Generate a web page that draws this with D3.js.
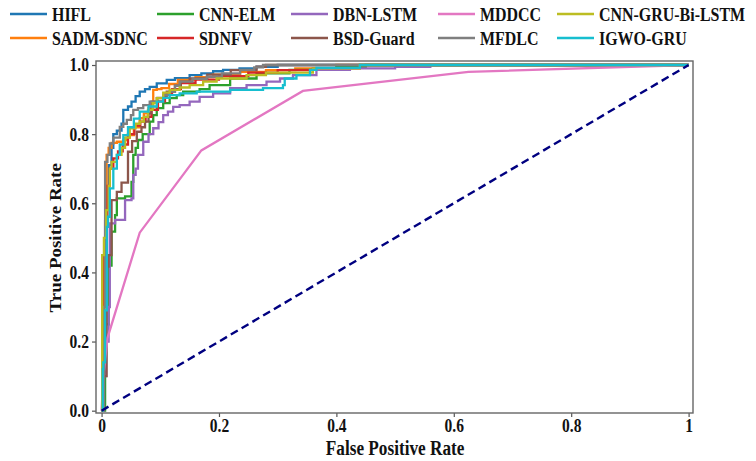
<!DOCTYPE html>
<html>
<head>
<meta charset="utf-8">
<script src="https://cdn.jsdelivr.net/npm/d3@7"></script>
<style>
  html, body { margin: 0; padding: 0; background: #fff; }
  svg text { font-family: "Liberation Serif", "Times New Roman", serif; font-weight: bold; fill: #111; }
</style>
</head>
<body>
<svg id="chart" width="756" height="461"></svg>
<script>
// ROC curves (false positive rate, true positive rate), one pair of arrays per model
const seriesNames = ["HIFL", "SADM-SDNC", "CNN-ELM", "SDNFV", "DBN-LSTM",
                     "BSD-Guard", "MDDCC", "MFDLC", "CNN-GRU-Bi-LSTM", "IGWO-GRU"];
const seriesColors = ["#1f77b4", "#ff7f0e", "#2ca02c", "#d62728", "#9467bd",
                      "#8c564b", "#e377c2", "#7f7f7f", "#bcbd22", "#17becf"];

const hiflFpr = [0, 0.003, 0.008, 0.012, 0.017, 0.020, 0.026, 0.034, 0.037, 0.045, 0.051, 0.058, 0.065, 0.074, 0.082, 0.094, 0.111, 0.125, 0.150, 0.170, 0.190, 0.207, 0.235, 0.264, 0.300, 1];
const hiflTpr = [0, 0.45, 0.62, 0.71, 0.76, 0.80, 0.81, 0.83, 0.87, 0.88, 0.894, 0.91, 0.923, 0.93, 0.937, 0.947, 0.957, 0.962, 0.971, 0.976, 0.982, 0.986, 0.99, 0.995, 1.0, 1.0];

const sadmFpr = [0, 0.004, 0.0085, 0.012, 0.017, 0.026, 0.037, 0.042, 0.048, 0.055, 0.065, 0.072, 0.080, 0.088, 0.094, 0.102, 0.115, 0.130, 0.160, 0.190, 0.236, 0.280, 0.330, 0.400, 1];
const sadmTpr = [0, 0.45, 0.74, 0.76, 0.775, 0.778, 0.783, 0.79, 0.797, 0.82, 0.846, 0.86, 0.875, 0.928, 0.93, 0.933, 0.945, 0.957, 0.965, 0.972, 0.98, 0.985, 0.99, 1.0, 1.0];

const cnnElmFpr = [0, 0.006, 0.012, 0.017, 0.023, 0.026, 0.040, 0.051, 0.054, 0.058, 0.062, 0.070, 0.082, 0.088, 0.094, 0.105, 0.116, 0.128, 0.139, 0.167, 0.184, 0.219, 0.264, 0.320, 0.400, 0.450, 1];
const cnnElmTpr = [0, 0.25, 0.42, 0.518, 0.566, 0.614, 0.62, 0.662, 0.74, 0.76, 0.783, 0.80, 0.836, 0.855, 0.875, 0.89, 0.904, 0.913, 0.923, 0.93, 0.942, 0.961, 0.976, 0.986, 0.995, 1.0, 1.0];

const sdnfvFpr = [0, 0.002, 0.006, 0.010, 0.014, 0.020, 0.028, 0.036, 0.045, 0.056, 0.066, 0.075, 0.085, 0.096, 0.108, 0.120, 0.135, 0.160, 0.200, 0.250, 0.300, 0.360, 0.440, 1];
const sdnfvTpr = [0, 0.45, 0.55, 0.65, 0.70, 0.73, 0.75, 0.77, 0.80, 0.825, 0.836, 0.85, 0.87, 0.895, 0.915, 0.93, 0.948, 0.958, 0.968, 0.978, 0.985, 0.99, 1.0, 1.0];

const dbnFpr = [0, 0.004, 0.008, 0.012, 0.014, 0.023, 0.040, 0.051, 0.054, 0.058, 0.062, 0.071, 0.080, 0.088, 0.097, 0.105, 0.113, 0.122, 0.133, 0.150, 0.167, 0.190, 0.219, 0.247, 0.281, 0.304, 0.326, 0.366, 0.423, 0.500, 0.560, 1];
const dbnTpr = [0, 0.10, 0.20, 0.30, 0.542, 0.552, 0.609, 0.614, 0.682, 0.70, 0.74, 0.778, 0.80, 0.817, 0.835, 0.855, 0.865, 0.879, 0.884, 0.894, 0.908, 0.918, 0.933, 0.942, 0.952, 0.961, 0.971, 0.986, 0.99, 0.995, 1.0, 1.0];

const bsdFpr = [0, 0.004, 0.0085, 0.012, 0.017, 0.026, 0.034, 0.045, 0.052, 0.060, 0.068, 0.074, 0.080, 0.085, 0.095, 0.111, 0.125, 0.135, 0.150, 0.180, 0.220, 0.264, 0.280, 1];
const bsdTpr = [0, 0.10, 0.417, 0.45, 0.609, 0.633, 0.66, 0.749, 0.78, 0.807, 0.82, 0.836, 0.86, 0.894, 0.905, 0.923, 0.94, 0.952, 0.961, 0.972, 0.985, 0.995, 1.0, 1.0];

const mddccFpr = [0, 0.003, 0.010, 0.065, 0.170, 0.343, 0.625, 1];
const mddccTpr = [0, 0.10, 0.21, 0.515, 0.753, 0.925, 0.98, 1];

const mfdlcFpr = [0, 0.004, 0.006, 0.010, 0.014, 0.020, 0.031, 0.037, 0.043, 0.050, 0.054, 0.062, 0.071, 0.082, 0.094, 0.105, 0.116, 0.125, 0.133, 0.155, 0.179, 0.205, 0.236, 0.260, 0.275, 1];
const mfdlcTpr = [0, 0.30, 0.72, 0.74, 0.773, 0.79, 0.821, 0.83, 0.841, 0.855, 0.87, 0.875, 0.884, 0.894, 0.904, 0.913, 0.923, 0.94, 0.952, 0.96, 0.966, 0.976, 0.986, 0.993, 1.0, 1.0];

const cnnGruFpr = [0, 0.001, 0.004, 0.008, 0.012, 0.014, 0.017, 0.026, 0.034, 0.040, 0.048, 0.058, 0.065, 0.072, 0.079, 0.087, 0.094, 0.105, 0.116, 0.133, 0.150, 0.173, 0.196, 0.247, 0.280, 0.360, 0.440, 1];
const cnnGruTpr = [0, 0.45, 0.50, 0.58, 0.65, 0.70, 0.72, 0.74, 0.76, 0.79, 0.817, 0.83, 0.836, 0.85, 0.87, 0.89, 0.904, 0.92, 0.928, 0.935, 0.942, 0.952, 0.961, 0.971, 0.978, 0.99, 1.0, 1.0];

const igwoFpr = [0, 0.002, 0.003, 0.006, 0.009, 0.011, 0.014, 0.020, 0.026, 0.031, 0.037, 0.045, 0.055, 0.065, 0.080, 0.094, 0.105, 0.116, 0.133, 0.162, 0.219, 0.275, 0.309, 0.312, 0.332, 0.355, 0.366, 0.440, 1];
const igwoTpr = [0, 0.12, 0.14, 0.29, 0.532, 0.561, 0.643, 0.70, 0.74, 0.77, 0.797, 0.82, 0.845, 0.865, 0.88, 0.894, 0.905, 0.913, 0.918, 0.923, 0.928, 0.933, 0.942, 0.961, 0.971, 0.986, 0.992, 1.0, 1.0];

const seriesFpr = [hiflFpr, sadmFpr, cnnElmFpr, sdnfvFpr, dbnFpr, bsdFpr, mddccFpr, mfdlcFpr, cnnGruFpr, igwoFpr];
const seriesTpr = [hiflTpr, sadmTpr, cnnElmTpr, sdnfvTpr, dbnTpr, bsdTpr, mddccTpr, mfdlcTpr, cnnGruTpr, igwoTpr];
// MDDCC has only a handful of thresholds, so it is drawn with straight segments
const straightSeries = ["MDDCC"];

const xTicks = [0, 0.2, 0.4, 0.6, 0.8, 1];
const xTickLabels = ["0", "0.2", "0.4", "0.6", "0.8", "1"];
const yTicks = [0, 0.2, 0.4, 0.6, 0.8, 1];
const yTickLabels = ["0.0", "0.2", "0.4", "0.6", "0.8", "1.0"];
const chanceFpr = [0, 1];
const chanceTpr = [0, 1];

// ---- layout ----
const svg = d3.select("#chart");
const plot = { left: 96, right: 693, top: 61, bottom: 413 };
const condense = 0.84;   // narrow bold serif look for every label

const x = d3.scaleLinear().domain([-0.0095, 1.0075]).range([plot.left, plot.right]);
const y = d3.scaleLinear().domain([-0.0067, 1.0116]).range([plot.bottom, plot.top]);

// clip curves to the axes box
svg.append("defs").append("clipPath").attr("id", "plot-clip")
  .append("rect")
  .attr("x", plot.left).attr("y", plot.top)
  .attr("width", plot.right - plot.left).attr("height", plot.bottom - plot.top);

const curves = svg.append("g").attr("clip-path", "url(#plot-clip)");

seriesNames.forEach((name, i) => {
  const pts = seriesFpr[i].map((fx, k) => [fx, seriesTpr[i][k]]);
  const line = d3.line()
    .x(d => x(d[0]))
    .y(d => y(d[1]))
    .curve(straightSeries.includes(name) ? d3.curveLinear : d3.curveStepAfter);
  curves.append("path")
    .datum(pts)
    .attr("d", line)
    .attr("fill", "none")
    .attr("stroke", seriesColors[i])
    .attr("stroke-width", 2.3)
    .attr("stroke-linejoin", "miter");
});

// chance diagonal
curves.append("path")
  .datum(chanceFpr.map((fx, k) => [fx, chanceTpr[k]]))
  .attr("d", d3.line().x(d => x(d[0])).y(d => y(d[1])))
  .attr("fill", "none")
  .attr("stroke", "#000080")
  .attr("stroke-width", 2.4)
  .attr("stroke-dasharray", "8,4.5");

// ---- axes ----
const xAxis = d3.axisBottom(x).tickValues(xTicks)
  .tickFormat((d, i) => xTickLabels[i]).tickSizeInner(4).tickSizeOuter(0).tickPadding(2);
const yAxis = d3.axisLeft(y).tickValues(yTicks)
  .tickFormat((d, i) => yTickLabels[i]).tickSizeInner(4).tickSizeOuter(0).tickPadding(4.3);

const gx = svg.append("g").attr("transform", `translate(0,${plot.bottom})`).call(xAxis);
const gy = svg.append("g").attr("transform", `translate(${plot.left},0)`).call(yAxis);
[gx, gy].forEach(g => {
  g.select(".domain").remove();
  g.selectAll(".tick line").attr("stroke", "#555").attr("stroke-width", 1.2);
  g.selectAll(".tick text").attr("font-size", 18.5).attr("fill", "#111")
    .attr("transform", `scale(${condense},1)`)
    .style("font-family", '"Liberation Serif", serif').style("font-weight", "bold");
});

// axes frame
svg.append("rect")
  .attr("x", plot.left).attr("y", plot.top)
  .attr("width", plot.right - plot.left).attr("height", plot.bottom - plot.top)
  .attr("fill", "none").attr("stroke", "#666").attr("stroke-width", 1.4);

// axis titles
svg.append("text")
  .attr("transform", `translate(${(x(0) + x(1)) / 2},455) scale(${condense},1)`)
  .attr("text-anchor", "middle").attr("font-size", 20.5)
  .text("False Positive Rate");
svg.append("text")
  .attr("transform", `translate(61,${(y(0) + y(1)) / 2}) rotate(-90) scale(1,${condense})`)
  .attr("text-anchor", "middle").attr("font-size", 19)
  .text("True Positive Rate");

// ---- legend: 5 columns x 2 rows, filled column by column ----
const legendColX = [10, 157, 291, 438, 557];
const legendRowY = [14, 38];
const legend = svg.append("g");
seriesNames.forEach((name, i) => {
  const col = Math.floor(i / 2), row = i % 2;
  const lx = legendColX[col], ly = legendRowY[row];
  legend.append("line")
    .attr("x1", lx).attr("x2", lx + 37)
    .attr("y1", ly).attr("y2", ly)
    .attr("stroke", seriesColors[i]).attr("stroke-width", 2.3);
  legend.append("text")
    .attr("transform", `translate(${lx + 42},${ly}) scale(${condense},1)`)
    .attr("dy", "0.35em").attr("font-size", 19)
    .text(name);
});
</script>
</body>
</html>
